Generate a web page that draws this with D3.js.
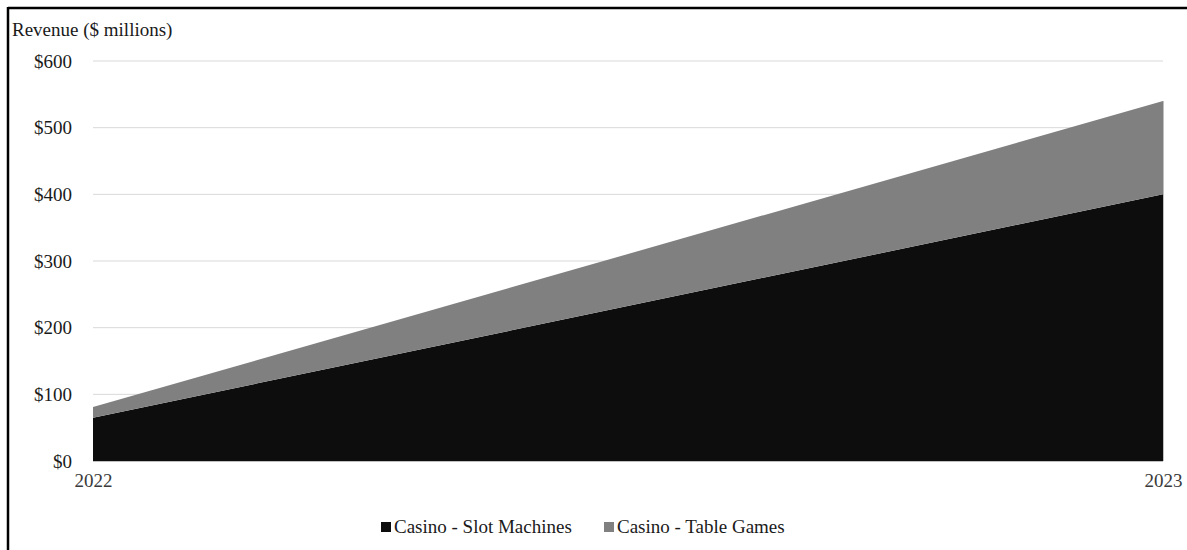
<!DOCTYPE html>
<html>
<head>
<meta charset="utf-8">
<script src="https://cdn.jsdelivr.net/npm/d3@7"></script>
<style>
  html, body { margin: 0; padding: 0; background: #fff; }
  svg { display: block; }
  svg text { font-family: "Liberation Serif", "DejaVu Serif", serif !important; }
</style>
</head>
<body>
<svg id="chart" width="1187" height="550"></svg>
<script>
const years = ["2022", "2023"];
const slotMachines = [65, 400];
const tableGames = [16, 140];
const seriesNames = ["Casino - Slot Machines", "Casino - Table Games"];
const seriesColors = ["#0d0d0d", "#808080"];
const yTicks = [0, 100, 200, 300, 400, 500, 600];
const yTitle = "Revenue ($ millions)";

const FS = 19;
const svg = d3.select("#chart");
const W = 1187, H = 550;
const m = { left: 93, right: 1187 - 1163, top: 61, bottom: 550 - 461 };

// frame border (top and left)
svg.append("line").attr("x1", 8).attr("x2", W).attr("y1", 8).attr("y2", 8)
  .attr("stroke", "#000").attr("stroke-width", 2.5);
svg.append("line").attr("x1", 8).attr("x2", 8).attr("y1", 7).attr("y2", H)
  .attr("stroke", "#000").attr("stroke-width", 2.5);

const x = d3.scalePoint().domain(years).range([m.left, W - m.right]);
const y = d3.scaleLinear().domain([0, 600]).range([H - m.bottom, m.top]);

// gridlines
svg.append("g").selectAll("line").data(yTicks.filter(d => d > 0)).join("line")
  .attr("x1", m.left).attr("x2", W - m.right)
  .attr("y1", d => y(d)).attr("y2", d => y(d))
  .attr("stroke", "#d9d9d9").attr("stroke-width", 1);

// stacked data
const table = years.map((yr, i) => ({ year: yr, slot: slotMachines[i], table: tableGames[i] }));
const stack = d3.stack().keys(["slot", "table"]);
const layers = stack(table);

const area = d3.area()
  .x(d => x(d.data.year))
  .y0(d => y(d[0]))
  .y1(d => y(d[1]));

svg.append("g").selectAll("path").data(layers).join("path")
  .attr("d", area)
  .attr("fill", (d, i) => seriesColors[i]);

// baseline and right edge
svg.append("line").attr("x1", m.left).attr("x2", W - m.right)
  .attr("y1", y(0) + 0.5).attr("y2", y(0) + 0.5)
  .attr("stroke", "#bfbfbf").attr("stroke-width", 1);
svg.append("line").attr("x1", W - m.right + 0.5).attr("x2", W - m.right + 0.5)
  .attr("y1", y(slotMachines[1] + tableGames[1])).attr("y2", y(0))
  .attr("stroke", "#bfbfbf").attr("stroke-width", 1);

// y axis labels
const yAxis = d3.axisLeft(y).tickValues(yTicks).tickFormat(d => "$" + d).tickSize(0).tickPadding(21);
const ya = svg.append("g").attr("transform", `translate(${m.left},0)`).call(yAxis);
ya.attr("font-family", null).attr("font-size", null);
ya.select(".domain").remove();
ya.selectAll("text").attr("font-size", FS).attr("fill", "#1a1a1a");

// x axis labels
const xAxis = d3.axisBottom(x).tickSize(0).tickPadding(13);
const xa = svg.append("g").attr("transform", `translate(0,${y(0)})`).call(xAxis);
xa.attr("font-family", null).attr("font-size", null);
xa.select(".domain").remove();
xa.selectAll("text").attr("font-size", FS).attr("fill", "#3a3a3a");

// y title
svg.append("text").attr("x", 12).attr("y", 36).attr("font-size", FS)
  .attr("fill", "#1a1a1a").text(yTitle);

// legend
const legendX = [381, 604];
const lg = svg.append("g");
seriesNames.forEach((name, i) => {
  lg.append("rect").attr("x", legendX[i]).attr("y", 522).attr("width", 10).attr("height", 10)
    .attr("fill", seriesColors[i]);
  lg.append("text").attr("x", legendX[i] + 13).attr("y", 533).attr("font-size", FS)
    .attr("fill", "#1a1a1a").text(name);
});
</script>
</body>
</html>
